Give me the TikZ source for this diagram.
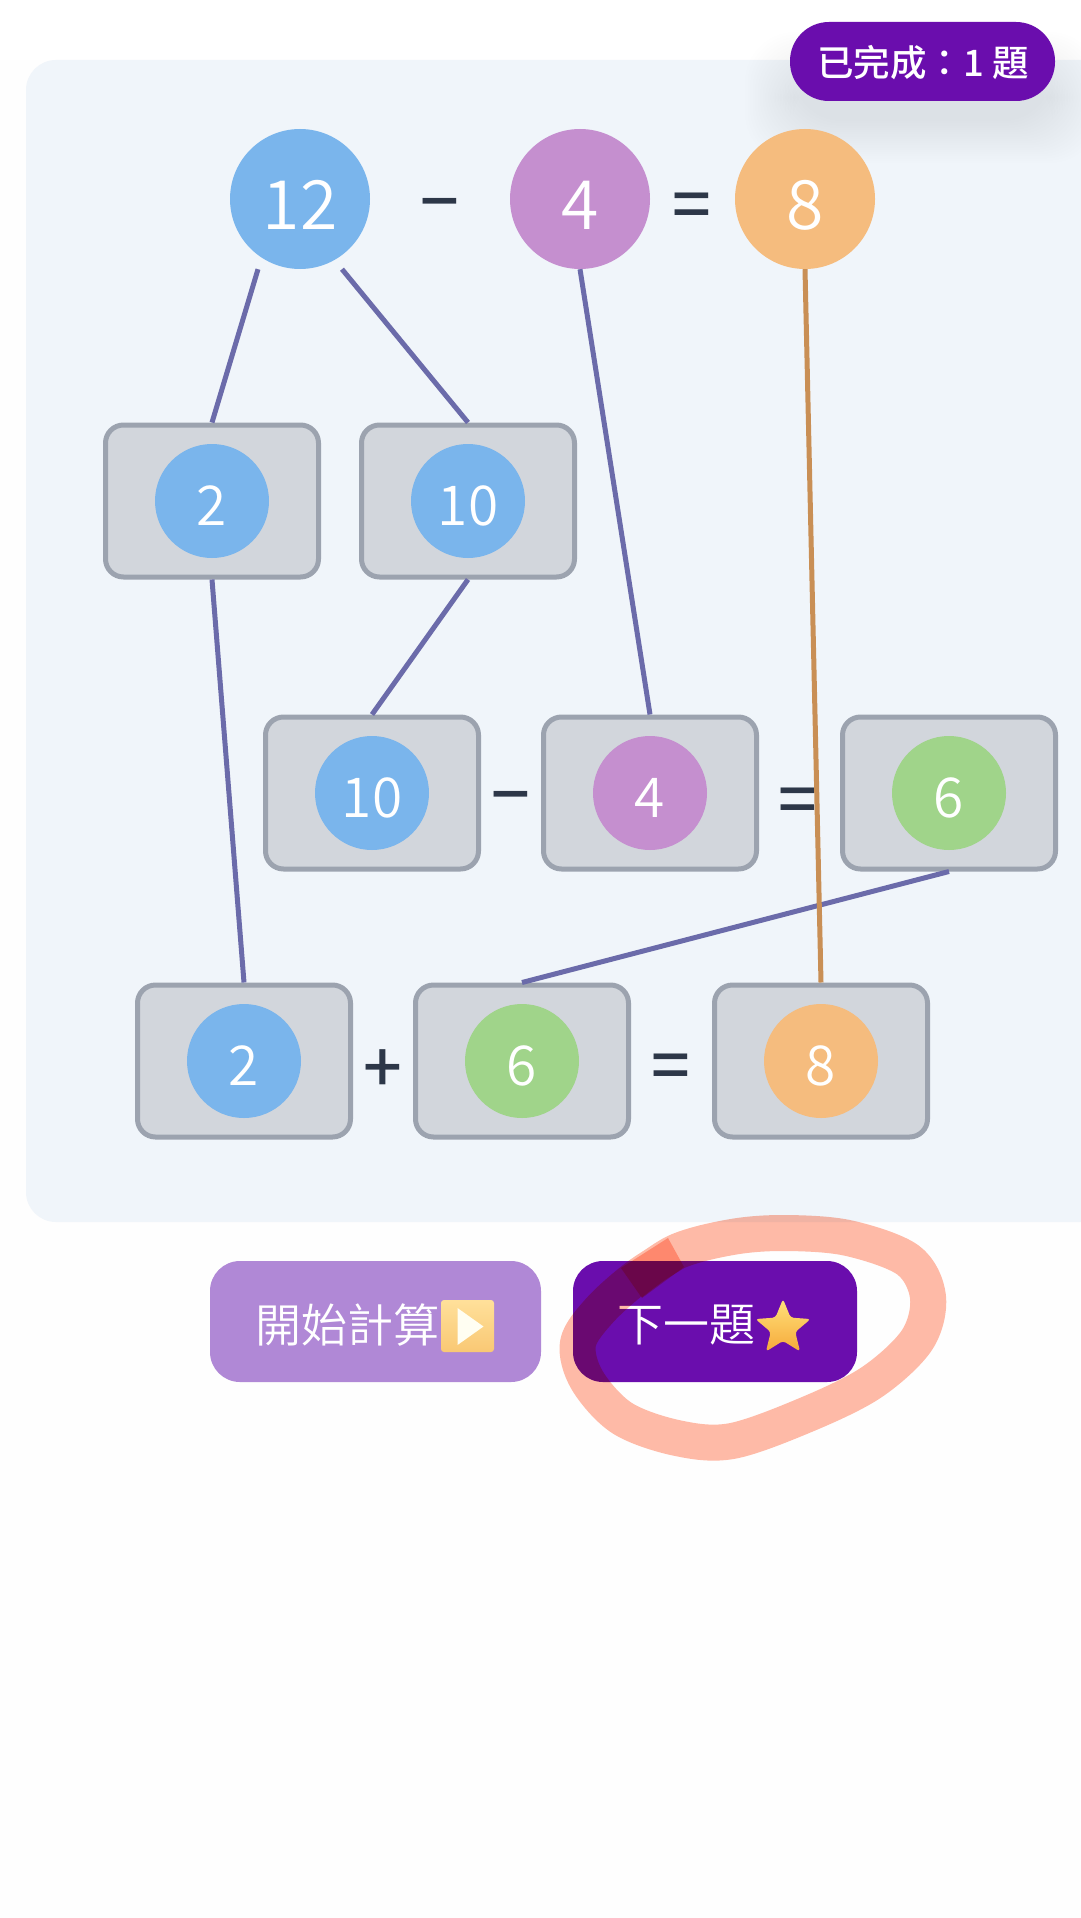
\documentclass[tikz,border=0pt]{standalone}
\usepackage{fontspec}
\usetikzlibrary{shapes.geometric}
\setmainfont{Noto Sans CJK TC}
\newfontfamily\lightf{Noto Sans CJK TC DemiLight}
\newfontfamily\medf{Noto Sans CJK TC Medium}
\definecolor{panelbg}{HTML}{F0F5FA}
\definecolor{pageb}{HTML}{FEFEFE}
\definecolor{cblue}{HTML}{7AB5EC}
\definecolor{cpurple}{HTML}{C58FCF}
\definecolor{corange}{HTML}{F5BC7E}
\definecolor{cgreen}{HTML}{A0D48A}
\definecolor{boxfill}{HTML}{D2D6DC}
\definecolor{boxline}{HTML}{9CA3AF}
\definecolor{lnblue}{HTML}{6B6BAA}
\definecolor{lnorange}{HTML}{C98F55}
\definecolor{ink}{HTML}{2D3748}
\definecolor{deep}{HTML}{6A0DAD}
\definecolor{soft}{HTML}{B088D6}
\definecolor{ringc}{HTML}{FFBBA8}
\definecolor{stara}{HTML}{FFE27A}
\definecolor{starb}{HTML}{F6A93B}
\definecolor{playa}{HTML}{FFE09A}
\definecolor{playb}{HTML}{F9C874}
\tikzset{
  x=1pt,y=-1pt,
  bigdot/.style={circle,minimum size=140pt,inner sep=0pt,draw=none},
  smalldot/.style={circle,minimum size=114pt,inner sep=0pt,draw=none},
  tile/.style={draw=boxline,fill=boxfill,line width=5pt,rounded corners=18pt,minimum width=213pt,minimum height=152pt,inner sep=0pt},
  sym/.style={text=ink,inner sep=0pt,font=\medf\fontsize{68}{68}\selectfont},
  wire/.style={draw=lnblue,line width=5pt},
  wireb/.style={draw=lnorange,line width=5pt},
  btn/.style={rounded corners=30pt,minimum height=121pt,inner sep=0pt,draw=none},
  btntext/.style={text=white,inner sep=0pt,font=\lightf\fontsize{46}{46}\selectfont},
  ringline/.style={draw=ringc,line width=36pt,line cap=butt,line join=round},
  dig/.style={text=white,inner sep=0pt}
}
\newcommand{\bigcirclenode}[4]{\node[bigdot,fill=#2] (#1) at (#3,199) {}; \node[dig,font=\lightf\fontsize{68}{68}\selectfont] (#1t) at ([yshift=-6pt]#1.center) {#4};}
\newcommand{\tilenode}[5]{\node[tile] (#1) at (#3,#4) {}; \node[smalldot,fill=#2] (#1c) at (#1.center) {}; \node[dig,font=\lightf\fontsize{55}{55}\selectfont] (#1t) at ([yshift=-5pt]#1.center) {#5};}
\begin{document}
\begin{tikzpicture}
\useasboundingbox (0,0) rectangle (1080,1918);
\fill[pageb] (0,0) rectangle (1080,1918);
\node[fill=white,minimum width=1080pt,minimum height=60pt,inner sep=0pt,anchor=north west] (toppage) at (0,0) {};
\fill[panelbg,rounded corners=30pt] (26,60) rectangle (1130,1222);
% badge shadow
\foreach \i in {0,...,19}{
  \fill[black,opacity=.0045,rounded corners=50pt] (790-45+2.5*\i,22+10+2.2*\i) rectangle (1055+45-2.5*\i,101+62-2.2*\i);
}
\bigcirclenode{na}{cblue}{300}{12}
\bigcirclenode{nb}{cpurple}{580}{4}
\bigcirclenode{nc}{corange}{805}{8}
\tilenode{ta}{cblue}{212}{501}{2}
\tilenode{tb}{cblue}{468}{501}{10}
\tilenode{tc}{cblue}{372}{793}{10}
\tilenode{td}{cpurple}{650}{793}{4}
\tilenode{te}{cgreen}{949}{793}{6}
\tilenode{tf}{cblue}{244}{1061}{2}
\tilenode{tg}{cgreen}{522}{1061}{6}
\tilenode{th}{corange}{821}{1061}{8}
\node[sym] (s1) at (440,212) {−};
\node[sym] (s2) at (692,211) {=};
\node[sym] (s3) at (511,805) {−};
\node[sym] (s4) at (798,806) {=};
\node[sym] (s5) at (383,1071) {+};
\node[sym] (s6) at (671,1072) {=};
\draw[wire] ([xshift=-42pt]na.south) -- (ta.north);
\draw[wire] ([xshift=42pt]na.south) -- (tb.north);
\draw[wire] (nb.south) -- (td.north);
\draw[wire] (ta.south) -- (tf.north);
\draw[wire] (tb.south) -- (tc.north);
\draw[wire] (te.south) -- (tg.north);
\draw[wireb] (nc.south) -- (th.north);
% badge
\node[fill=deep,rounded corners=39pt,minimum width=265pt,minimum height=79pt,inner sep=0pt] (badge) at (922.5,61.5) {};
\node[text=white,inner sep=0pt,font=\medf\fontsize{36.5}{36.5}\selectfont] (badget) at (923,63) {已完成：1 題};
% buttons
\node[btn,fill=soft,minimum width=331pt] (b1) at (375.5,1321.5) {};
\node[btn,fill=deep,minimum width=284pt] (b2) at (715,1321.5) {};
\node[btntext] (b1t) at (347,1325) {開始計算};
\node[btntext] (b2t) at (686,1325) {下一題};
% play emoji
\node[rounded corners=3pt,minimum width=53pt,minimum height=52pt,inner sep=0pt,top color=playa,bottom color=playb] (play) at (467.5,1326) {};
\fill[white!95!yellow] (play.center) ++(-10,-18) -- ++(0,37) -- ++(26,-18.5) -- cycle;
% star emoji
\node[star,star points=5,star point ratio=2.25,minimum size=58pt,inner sep=0pt,rounded corners=3pt,top color=stara,bottom color=starb] (starn) at (783,1328) {};
% ring
\begin{scope}[blend mode=multiply]
\draw[ringline] plot[smooth,tension=.55] coordinates {(631,1283) (676,1252) (732,1237) (785,1233) (848,1238) (908,1260) (928,1297) (917,1340) (872,1382) (808,1414) (732,1441) (677,1438) (622,1418) (587,1380) (578,1343) (600,1310) (637,1277) (676,1252)};
\fill[ringc] (668,1238) -- (684,1267) -- (642,1298) -- (621,1268) -- cycle;
\end{scope}
\end{tikzpicture}
\end{document}
